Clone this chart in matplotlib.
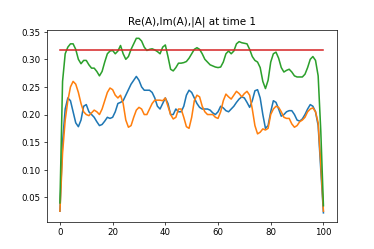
import matplotlib
matplotlib.use("Agg")
import matplotlib.pyplot as plt

x = list(range(0, 101))

re_a = [0.025, 0.15, 0.21, 0.23, 0.225, 0.205, 0.185, 0.178, 0.19, 0.215,
        0.218, 0.205, 0.2, 0.195, 0.187, 0.18, 0.182, 0.188, 0.195, 0.193,
        0.195, 0.205, 0.22, 0.222, 0.225, 0.235, 0.245, 0.255, 0.262, 0.269,
        0.262, 0.25, 0.244, 0.244, 0.244, 0.24, 0.23, 0.215, 0.21, 0.22,
        0.23, 0.22, 0.2, 0.2, 0.21, 0.205, 0.205, 0.215, 0.235, 0.244,
        0.24, 0.23, 0.22, 0.213, 0.21, 0.21, 0.21, 0.208, 0.203, 0.2,
        0.205, 0.215, 0.212, 0.207, 0.205, 0.21, 0.215, 0.222, 0.228, 0.232,
        0.23, 0.222, 0.213, 0.225, 0.243, 0.245, 0.23, 0.2, 0.175, 0.18,
        0.205, 0.225, 0.222, 0.21, 0.197, 0.2, 0.205, 0.207, 0.207, 0.2,
        0.19, 0.188, 0.192, 0.2, 0.21, 0.218, 0.215, 0.205, 0.18, 0.1,
        0.022]

im_a = [0.025, 0.13, 0.19, 0.225, 0.25, 0.26, 0.255, 0.24, 0.22, 0.205,
        0.2, 0.198, 0.203, 0.208, 0.205, 0.2, 0.21, 0.225, 0.24, 0.248,
        0.245, 0.235, 0.23, 0.235, 0.22, 0.19, 0.177, 0.18, 0.195, 0.208,
        0.213, 0.21, 0.2, 0.2, 0.21, 0.22, 0.226, 0.226, 0.226, 0.225,
        0.23, 0.215, 0.2, 0.192, 0.195, 0.21, 0.21, 0.195, 0.178, 0.175,
        0.195, 0.225, 0.235, 0.232, 0.215, 0.205, 0.2, 0.2, 0.2, 0.195,
        0.193, 0.205, 0.225, 0.237, 0.232, 0.228, 0.235, 0.242, 0.238, 0.232,
        0.238, 0.242, 0.235, 0.21, 0.18, 0.165, 0.168, 0.174, 0.172, 0.175,
        0.2, 0.21, 0.215, 0.213, 0.205, 0.195, 0.193, 0.193, 0.183, 0.177,
        0.18, 0.187, 0.19, 0.195, 0.205, 0.21, 0.212, 0.205, 0.185, 0.11,
        0.025]

abs_a = [0.04, 0.26, 0.31, 0.322, 0.328, 0.328, 0.318, 0.3, 0.292, 0.298,
         0.298, 0.29, 0.284, 0.284, 0.278, 0.27, 0.278, 0.295, 0.31, 0.315,
         0.316, 0.31, 0.315, 0.325, 0.31, 0.3, 0.305, 0.318, 0.328, 0.338,
         0.338, 0.333, 0.322, 0.316, 0.318, 0.319, 0.317, 0.314, 0.31, 0.322,
         0.326, 0.305, 0.282, 0.279, 0.285, 0.293, 0.293, 0.294, 0.296, 0.302,
         0.31, 0.318, 0.321, 0.318, 0.31, 0.3, 0.295, 0.29, 0.288, 0.286,
         0.285, 0.286, 0.295, 0.31, 0.315, 0.31, 0.315, 0.328, 0.332, 0.33,
         0.329, 0.328, 0.318, 0.305, 0.298, 0.295, 0.285, 0.26, 0.247, 0.262,
         0.295, 0.31, 0.313, 0.302, 0.285, 0.277, 0.28, 0.282, 0.277, 0.27,
         0.268, 0.268, 0.268, 0.273, 0.285, 0.3, 0.305, 0.298, 0.27, 0.17,
         0.035]

ref_level = 0.316

fig, ax = plt.subplots(figsize=(6, 4), dpi=374 / 6)
ax.plot(x, re_a, lw=1.8)
ax.plot(x, im_a, lw=1.8)
ax.plot(x, abs_a, lw=1.8)
ax.plot([x[0], x[-1]], [ref_level, ref_level], lw=1.8)
ax.set_title("Re(A),Im(A),|A| at time 1")

fig.savefig("out.png")
